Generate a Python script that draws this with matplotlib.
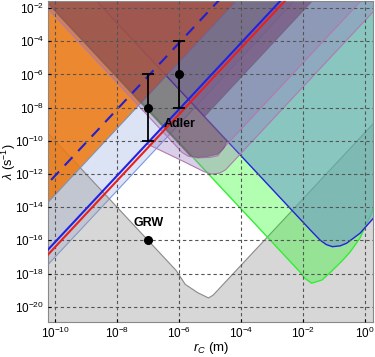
import numpy as np
import matplotlib
matplotlib.use("Agg")
from matplotlib import pyplot as plt

plt.rcParams['font.family'] = ['Liberation Sans', 'DejaVu Sans']
plt.rcParams['mathtext.fontset'] = 'custom'
plt.rcParams['mathtext.rm'] = 'Liberation Sans'
plt.rcParams['mathtext.it'] = 'Liberation Sans:italic'
plt.rcParams['mathtext.bf'] = 'Liberation Sans:bold'

# region boundaries as (log10 rC, log10 lambda)
light_blue = [(-11.0, -19.0), (-2.0, -1.0), (-11.0, -1.0)]
gray_lower = [(-10.6, -8.8), (-6.1, -17.8), (-5.8, -18.65), (-5.4, -19.15), (-5.05, -19.47),
              (-4.9, -19.3), (0.6, -8.3), (0.6, -22.0), (-10.6, -22.0)]
orange = [(-11.0, -15.25), (-3.875, -1.0), (-11.0, -1.0)]
green = [(-10.55, -1.0), (-2.1, -17.9), (-1.93, -18.3), (-1.72, -18.58), (-1.39, -18.39),
         (-1.1, -17.9), (-0.74, -17.24), (-0.48, -16.7), (-0.16, -15.86), (0.23, -14.29),
         (0.6, -12.3), (0.6, -1.0)]
teal = [(-8.95, -1.0), (-2.1, -14.7), (-1.75, -15.4), (-1.45, -15.98), (-1.25, -16.25),
        (-1.05, -16.38), (-0.8, -16.33), (-0.59, -16.17), (-0.16, -15.57), (0.27, -14.67),
        (0.6, -14.0), (0.6, -1.0)]
purple_outer = [(-2.45, -1.0), (-7.04, -10.18), (-5.9, -11.2), (-5.2, -11.85), (-4.95, -12.0),
                (-4.7, -11.95), (-4.5, -11.75), (0.875, -1.0)]
purple_inner = [(-10.75, -1.0), (-5.9, -10.7), (-5.7, -10.93), (-5.4, -11.03), (-5.0, -11.0),
                (-4.75, -10.9), (-4.55, -10.4), (0.15, -1.0)]
dark = [(-10.6, -1.0), (-5.65, -10.9), (-5.4, -11.0), (-5.1, -10.95), (-4.75, -10.8),
        (-4.55, -10.45), (-4.45, -10.0), (-5.18, -8.54), (-1.415, -1.0)]

# straight bounds (log10 values at two ends)
xray_blue = [(-11.0, -18.1), (-2.45, -1.0)]
xray_red = [(-11.0, -18.4), (-2.3, -1.0)]
dashed_bound = [(-11.0, -14.1), (-4.45, -1.0)]

# GRW and Adler values
grw_rc, grw_lam = [1e-7], [1e-16]
adler_rc = [1e-7, 1e-6]
adler_lam = [1e-8, 1e-6]
adler_lo = [1e-10, 1e-8]
adler_hi = [1e-6, 1e-4]

xticks = [-10, -8, -6, -4, -2, 0]
yticks = [-20, -18, -16, -14, -12, -10, -8, -6, -4, -2]


def to_lin(pts):
    a = np.array(pts, dtype=float)
    return 10 ** a[:, 0], 10 ** a[:, 1]


fig = plt.figure(figsize=(3.75, 3.57), dpi=100)
ax = fig.add_axes([0.1288, 0.098, 0.8659, 0.8978])
ax.set_xscale('log')
ax.set_yscale('log')

layers = [
    (light_blue, (0.725, 0.788, 0.922, 0.5), '#7a96e6', 0.8),
    (gray_lower, (0.608, 0.608, 0.608, 0.4), '#8a8a8a', 0.8),
    (green, (0.0, 1.0, 0.0, 0.3), '#33ee33', 1.0),
    (teal, (0.43, 0.627, 0.784, 0.6), '#2222dd', 1.0),
    (orange, (0.941, 0.471, 0.051, 0.85), '#8090b8', 0.8),
    (purple_outer, (0.588, 0.47, 0.745, 0.35), '#b07ab0', 0.8),
    (purple_inner, (0.576, 0.451, 0.655, 0.3), '#b07ab0', 0.8),
    (dark, (0.41, 0.14, 0.33, 0.42), (0.4, 0.33, 0.45, 0.6), 0.6),
]
for i, (pts, fc, ec, lw) in enumerate(layers):
    x, y = to_lin(pts)
    ax.fill(x, y, facecolor=fc, edgecolor=ec, linewidth=lw, zorder=1 + i * 0.1)

x, y = to_lin(xray_blue)
ax.plot(x, y, color='#2222e0', lw=1.5, zorder=3)
x, y = to_lin(xray_red)
ax.plot(x, y, color='#e82020', lw=1.5, zorder=3)
x, y = to_lin(dashed_bound)
ax.plot(x, y, color='#2020d0', lw=1.5, dashes=(5.5, 4), zorder=3)

ax.errorbar(adler_rc, adler_lam,
            yerr=[np.array(adler_lam) - np.array(adler_lo), np.array(adler_hi) - np.array(adler_lam)],
            fmt='o', color='black', ms=5.5, capsize=4, elinewidth=1.3, capthick=1.3, zorder=5)
ax.plot(grw_rc, grw_lam, 'o', color='black', ms=5.5, zorder=5)
ax.text(1e-7, 10 ** -14.95, 'GRW', fontsize=9, fontweight='bold', ha='center', va='center', zorder=6)
ax.text(10 ** -5.97, 10 ** -9.0, 'Adler', fontsize=9, fontweight='bold', ha='center', va='center', zorder=6)

ax.set_xlim(10 ** -10.22, 10 ** 0.26)
ax.set_ylim(10 ** -20.92, 10 ** -1.6)
ax.set_xticks([10.0 ** t for t in xticks])
ax.set_xticklabels([r'$10^{%d}$' % t for t in xticks])
ax.set_yticks([10.0 ** t for t in yticks])
ax.set_yticklabels([r'$10^{%d}$' % t for t in yticks])
ax.minorticks_off()
ax.tick_params(labelsize=8.5, length=2, direction='in', pad=3)
ax.grid(True, color='#555555', lw=0.8, linestyle=(0, (3, 2.5)), zorder=2.5)
ax.set_axisbelow(False)
for s in ax.spines.values():
    s.set_color('#888888')
    s.set_linewidth(0.8)

ax.set_xlabel(r'$r_C$ (m)', fontsize=9.5)
ax.set_ylabel(r'$\lambda$ (s$^{-1}$)', fontsize=9)
ax.xaxis.set_label_coords(0.5, -0.056)
ax.yaxis.set_label_coords(-0.094, 0.5)

fig.savefig('out.png', dpi=100)
